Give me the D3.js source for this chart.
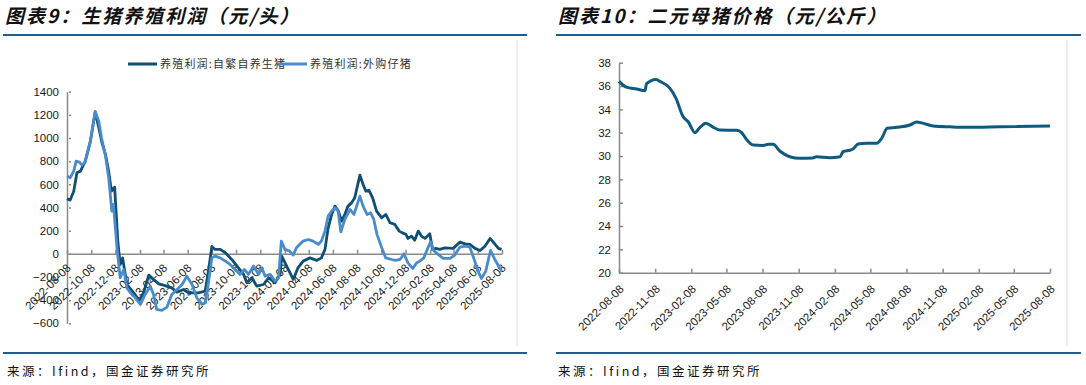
<!DOCTYPE html>
<html>
<head>
<meta charset="utf-8">
<script src="https://cdn.jsdelivr.net/npm/d3@7/dist/d3.min.js"></script>
<style>
  body { margin: 0; background: #fff; }
  svg { display: block; }
  .ttl { font-family: "Noto Sans CJK SC", sans-serif; font-size: 19px; font-weight: 700; font-style: italic; fill: #111; letter-spacing: 2px; }
  .src { font-family: "Noto Sans CJK SC", monospace; font-size: 12.5px; fill: #111; letter-spacing: 2.5px; }
  .ax text { font-family: "Liberation Sans Narrow", "Arial Narrow", "Liberation Sans", sans-serif; font-size: 11.5px; fill: #1a1a1a; }
  .ax path, .ax line { stroke: #8a8a8a; stroke-width: 1.5; }
  .leg { font-family: "Noto Sans CJK SC", serif; font-size: 11px; fill: #333; letter-spacing: 1.2px; }
</style>
</head>
<body>
<script>
// 养殖利润:自繁自养生猪 (元/头)
var selfDates = ["2022-08-08","2022-08-16","2022-08-25","2022-09-02","2022-09-11","2022-09-17","2022-09-23","2022-10-06","2022-10-18","2022-10-28","2022-11-04","2022-11-13","2022-11-21","2022-11-28","2022-12-06","2022-12-14","2022-12-20","2022-12-26","2023-01-06","2023-01-23","2023-02-06","2023-02-17","2023-03-02","2023-03-14","2023-03-27","2023-04-08","2023-04-29","2023-05-12","2023-05-29","2023-06-10","2023-07-05","2023-07-22","2023-07-31","2023-08-08","2023-08-16","2023-08-29","2023-09-11","2023-09-27","2023-10-14","2023-10-27","2023-11-04","2023-11-17","2023-11-29","2023-12-16","2023-12-29","2024-01-14","2024-01-27","2024-01-31","2024-02-29","2024-03-12","2024-03-25","2024-04-11","2024-04-28","2024-05-10","2024-05-19","2024-05-27","2024-06-05","2024-06-13","2024-06-21","2024-06-30","2024-07-08","2024-07-16","2024-07-25","2024-08-02","2024-08-15","2024-08-23","2024-08-30","2024-09-07","2024-09-16","2024-09-26","2024-10-09","2024-10-19","2024-10-30","2024-11-11","2024-11-22","2024-11-30","2024-12-09","2024-12-14","2024-12-23","2024-12-31","2025-01-09","2025-01-17","2025-01-26","2025-02-07","2025-02-14","2025-02-22","2025-03-04","2025-03-17","2025-04-07","2025-04-24","2025-05-07","2025-05-19","2025-06-01","2025-06-14","2025-06-26","2025-07-09","2025-07-17","2025-07-30","2025-08-07"];
var selfValues = [475,464,541,700,714,757,800,973,1226,1074,959,858,714,541,576,110,-92,-35,-265,-337,-403,-337,-184,-221,-259,-270,-294,-331,-308,-337,-337,-323,-135,64,38,38,9,-49,-121,-178,-250,-207,-279,-265,-207,-250,-178,-20,-221,-121,-63,-35,-57,-35,38,225,340,412,374,282,340,412,440,484,680,599,541,547,484,369,311,340,268,254,196,181,168,133,153,118,196,153,133,173,38,47,38,52,47,101,86,81,47,29,66,133,101,47,38];

// 养殖利润:外购仔猪 (元/头)
var buyDates = ["2022-08-08","2022-08-16","2022-08-25","2022-08-31","2022-09-08","2022-09-15","2022-09-23","2022-10-06","2022-10-18","2022-10-27","2022-11-03","2022-11-13","2022-11-21","2022-11-29","2022-12-03","2022-12-12","2022-12-20","2022-12-29","2023-01-06","2023-01-15","2023-01-27","2023-02-09","2023-02-21","2023-03-06","2023-03-14","2023-03-22","2023-04-04","2023-04-17","2023-04-29","2023-05-12","2023-05-25","2023-06-06","2023-06-19","2023-07-01","2023-07-14","2023-07-22","2023-07-31","2023-08-08","2023-08-16","2023-08-29","2023-09-11","2023-09-23","2023-10-06","2023-10-18","2023-10-29","2023-11-08","2023-11-21","2023-12-04","2023-12-12","2023-12-20","2024-01-02","2024-01-14","2024-01-23","2024-01-30","2024-02-08","2024-02-20","2024-02-29","2024-03-08","2024-03-25","2024-04-07","2024-04-19","2024-05-02","2024-05-10","2024-05-19","2024-05-27","2024-06-05","2024-06-13","2024-06-21","2024-06-28","2024-07-08","2024-07-21","2024-07-31","2024-08-15","2024-08-23","2024-09-02","2024-09-11","2024-09-19","2024-09-27","2024-10-09","2024-10-19","2024-11-03","2024-11-13","2024-11-24","2024-12-04","2024-12-14","2024-12-26","2025-01-05","2025-01-13","2025-01-23","2025-01-30","2025-02-09","2025-02-17","2025-02-28","2025-03-13","2025-03-30","2025-04-11","2025-04-24","2025-05-07","2025-05-19","2025-05-27","2025-06-09","2025-06-17","2025-06-28","2025-07-10","2025-07-21","2025-08-02","2025-08-07"];
var buyValues = [671,657,714,800,792,766,795,973,1229,1146,1002,844,657,369,427,52,-207,-135,-294,-337,-380,-437,-351,-279,-351,-480,-489,-460,-351,-308,-265,-193,-265,-380,-437,-423,-236,-35,-20,-35,-63,-92,-135,-178,-135,-178,-106,-178,-121,-193,-178,-236,-207,110,38,23,-11,52,110,124,110,81,110,196,326,369,397,369,190,297,383,340,498,412,340,354,297,168,52,-35,-49,-57,-49,0,-78,-126,-78,-63,-35,23,104,29,-5,-40,-40,-11,58,66,58,-20,-150,-213,-150,29,-49,-121,-150];

// 二元母猪价格 (元/公斤)
var sowDates = ["2022-08-08","2022-08-27","2022-09-22","2022-10-13","2022-10-17","2022-11-10","2022-11-20","2022-12-14","2022-12-31","2023-01-18","2023-01-31","2023-02-17","2023-03-02","2023-03-17","2023-04-05","2023-04-22","2023-06-03","2023-06-16","2023-06-28","2023-07-15","2023-08-10","2023-08-22","2023-09-04","2023-09-21","2023-10-16","2023-11-11","2023-12-14","2023-12-23","2024-01-26","2024-02-21","2024-02-29","2024-03-17","2024-03-25","2024-04-07","2024-04-28","2024-05-24","2024-06-06","2024-06-20","2024-07-14","2024-08-17","2024-09-03","2024-09-20","2024-10-15","2024-11-27","2025-01-08","2025-04-03","2025-08-08"];
var sowValues = [36.4,35.9,35.75,35.6,36.2,36.57,36.4,35.86,34.95,33.37,32.94,32.0,32.46,32.8,32.46,32.23,32.2,32.0,31.43,30.94,30.9,31.0,31.0,30.43,29.94,29.8,29.83,29.94,29.86,29.94,30.37,30.5,30.6,31.03,31.1,31.1,31.52,32.38,32.46,32.66,32.92,32.8,32.57,32.5,32.46,32.5,32.57];

var leftTickLabels = ["2022-08-08","2022-10-08","2022-12-08","2023-02-08","2023-04-08","2023-06-08","2023-08-08","2023-10-08","2023-12-08","2024-02-08","2024-04-08","2024-06-08","2024-08-08","2024-10-08","2024-12-08","2025-02-08","2025-04-08","2025-06-08","2025-08-08"];
var rightTickLabels = ["2022-08-08","2022-11-08","2023-02-08","2023-05-08","2023-08-08","2023-11-08","2024-02-08","2024-05-08","2024-08-08","2024-11-08","2025-02-08","2025-05-08","2025-08-08"];
var leftYTicks = [-600,-400,-200,0,200,400,600,800,1000,1200,1400];
var rightYTicks = [20,22,24,26,28,30,32,34,36,38];

var seriesNames = ["养殖利润:自繁自养生猪", "养殖利润:外购仔猪"];
var darkBlue = "#0e4f73", lightBlue = "#4a8ccb";

var W = 1086, H = 385;
var parse = d3.timeParse("%Y-%m-%d");
var fmt = d3.timeFormat("%Y-%m-%d");

var svg = d3.select("body").append("svg").attr("width", W).attr("height", H);

// header / footer rules
[[3, 527], [556, 1081]].forEach(function(r) {
    svg.append("line").attr("x1", r[0]).attr("x2", r[1]).attr("y1", 35).attr("y2", 35)
        .attr("stroke", "#1f5f8e").attr("stroke-width", 2);
    svg.append("line").attr("x1", r[0]).attr("x2", r[1]).attr("y1", 353).attr("y2", 353)
        .attr("stroke", "#1f5f8e").attr("stroke-width", 2);
});
svg.append("text").attr("class", "ttl").attr("x", 5).attr("y", 23).text("图表9：生猪养殖利润（元/头）");
svg.append("text").attr("class", "ttl").attr("x", 558).attr("y", 23).text("图表10：二元母猪价格（元/公斤）");
svg.append("text").attr("class", "src").attr("x", 7).attr("y", 376).text("来源：Ifind，国金证券研究所");
svg.append("text").attr("class", "src").attr("x", 558).attr("y", 376).text("来源：Ifind，国金证券研究所");

// light frame on the right of each panel
[517, 1067].forEach(function(x) {
    svg.append("line").attr("x1", x).attr("x2", x).attr("y1", 40).attr("y2", 346)
        .attr("stroke", "#dcdcdc").attr("stroke-width", 1);
});

function xAxis(g, scale, ticks, y0, dx, dy) {
    g.attr("class", "ax").attr("transform", "translate(0," + y0 + ")")
        .call(d3.axisBottom(scale).tickValues(ticks.map(parse)).tickFormat(fmt)
            .tickSize(-4).tickSizeOuter(0));
    g.selectAll("text")
        .attr("x", 0).attr("y", 0).attr("dy", 0)
        .attr("text-anchor", "end")
        .attr("transform", "translate(" + dx + "," + dy + ") rotate(-45)");
}

// ---------- left chart ----------
var xL = d3.scaleTime().domain([parse("2022-08-08"), parse("2025-08-08")]).range([67, 502]);
var yL = d3.scaleLinear().domain([-600, 1400]).range([323.3, 91.7]);

var gyL = svg.append("g").attr("class", "ax").attr("transform", "translate(67,0)")
    .call(d3.axisLeft(yL).tickValues(leftYTicks).tickFormat(d3.format("d"))
        .tickSize(-4).tickSizeOuter(0).tickPadding(8));
gyL.selectAll(".tick line").attr("x1", 2);

svg.append("g").call(xAxis, xL, leftTickLabels, yL(0), 4, 15);

var lineL = d3.line().x(function(d) { return xL(d[0]); }).y(function(d) { return yL(d[1]); });
var selfData = selfDates.map(function(d, i) { return [parse(d), selfValues[i]]; });
var buyData = buyDates.map(function(d, i) { return [parse(d), buyValues[i]]; });

svg.append("path").datum(selfData).attr("d", lineL)
    .attr("fill", "none").attr("stroke", darkBlue).attr("stroke-width", 2.8).attr("stroke-linejoin", "round");
svg.append("path").datum(buyData).attr("d", lineL)
    .attr("fill", "none").attr("stroke", lightBlue).attr("stroke-width", 2.8).attr("stroke-linejoin", "round");

// legend
var legX = [128, 278];
seriesNames.forEach(function(n, i) {
    svg.append("line").attr("x1", legX[i]).attr("x2", legX[i] + 29).attr("y1", 64).attr("y2", 64)
        .attr("stroke", i === 0 ? darkBlue : lightBlue).attr("stroke-width", 3);
    svg.append("text").attr("class", "leg").attr("x", legX[i] + 32).attr("y", 68).text(n);
});

// ---------- right chart ----------
var xR = d3.scaleTime().domain([parse("2022-08-08"), parse("2025-08-08")]).range([619, 1050]);
var yR = d3.scaleLinear().domain([20, 38]).range([272.7, 62.7]);

svg.append("g").attr("class", "ax").attr("transform", "translate(619,0)")
    .call(d3.axisLeft(yR).tickValues(rightYTicks).tickSize(-4).tickSizeOuter(0).tickPadding(8));

svg.append("g").call(xAxis, xR, rightTickLabels, yR(20), 5, 17);

var sowData = sowDates.map(function(d, i) { return [parse(d), sowValues[i]]; });
svg.append("path").datum(sowData)
    .attr("d", d3.line().curve(d3.curveMonotoneX)
        .x(function(d) { return xR(d[0]); }).y(function(d) { return yR(d[1]); }))
    .attr("fill", "none").attr("stroke", "#0f5a80").attr("stroke-width", 3).attr("stroke-linejoin", "round");
</script>
</body>
</html>
